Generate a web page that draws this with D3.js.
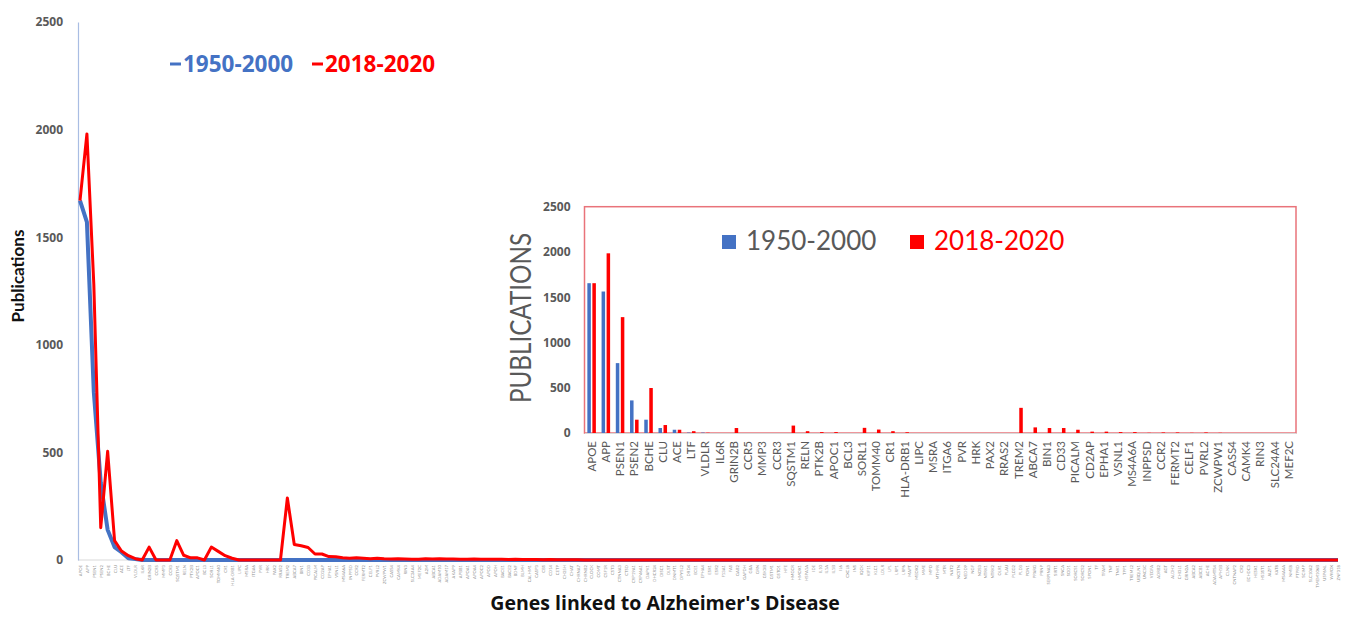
<!DOCTYPE html>
<html>
<head>
<meta charset="utf-8">
<script src="https://cdn.jsdelivr.net/npm/d3@7"></script>
<style>
  body { margin: 0; background: #fff; }
  svg { display: block; }
</style>
</head>
<body>
<div id="chart"></div>
<script>
// genes shown in the inset (and the first 50 points of the big line chart)
const insetGenes = ["APOE","APP","PSEN1","PSEN2","BCHE","CLU","ACE","LTF","VLDLR","IL6R",
  "GRIN2B","CCR5","MMP3","CCR3","SQSTM1","RELN","PTK2B","APOC1","BCL3","SORL1",
  "TOMM40","CR1","HLA-DRB1","LIPC","MSRA","ITGA6","PVR","HRK","PAX2","RRAS2",
  "TREM2","ABCA7","BIN1","CD33","PICALM","CD2AP","EPHA1","VSNL1","MS4A6A","INPPSD",
  "CCR2","FERMT2","CELF1","PVRL2","ZCWPW1","CASS4","CAMK4","RIN3","SLC24A4","MEF2C"];

const insetOld = [1655,1563,772,360,147,55,36,5,5,0,
  0,0,0,0,0,0,0,0,0,0,
  0,0,0,0,0,0,0,0,0,0,
  0,0,0,0,0,0,0,0,0,0,
  0,0,0,0,0,0,0,0,0,0];

const insetNew = [1655,1985,1280,147,497,88,36,20,3,0,
  55,0,0,0,82,20,10,10,0,57,
  38,20,8,0,0,0,0,0,0,0,
  278,62,55,55,36,15,15,10,10,2,
  6,6,2,6,2,0,0,0,0,0];

// remaining genes of the long line chart (labels too small to read, estimated)
const extraGenes = ["A2M","ABCA1","ADAM10","ADAM17","AKAP9","APBB1","APOA1","APOA4","APOC2","APOD",
  "APOH","BACE1","BACE2","BDNF","BLMH","CALHM1","CASP3","CBS","CD14","CETP",
  "CH25H","CHAT","CHRNA7","CHRNB2","CLOCK","COMT","CSF1R","CST3","CTNNA3","CTSD",
  "CYP19A1","CYP46A1","DAPK1","DHCR24","DISC1","DLST","DNMT1","DPYSL2","DRD4","ECE1",
  "EPHA4","ESR1","ESR2","F13A1","FAS","GAB2","GAPDH","GBA","GRN","GSK3B",
  "GSTM1","GSTO1","HFE","HMGCR","HMOX1","HSPA1A","IDE","IL10","IL1A","IL1B",
  "IL6","CXCL8","INS","IQCK","KIF11","KLC1","LDLR","LPL","LRP1","LRP6",
  "MAPT","MEOX2","MME","MPO","MTHFR","MTR","NAT2","NCSTN","NEDD9","NGF",
  "NOS3","NTRK1","NTRK2","OLR1","PLAU","PLCG2","PLD3","PON1","PPARG","PRNP",
  "SERPINA3","SIRT1","SNCA","SOD1","SORCS1","SORCS2","SPON1","TF","TFAM","TNF",
  "TNK1","TPP1","TREML2","UBQLN1","UNC5C","VEGFA","ADRB2","AGT","ALDH2","CHI3L1",
  "GRIN2A","ABCA2","ABCB1","ACHE","ADAMTS4","APH1B","CLNK","CNTNAP2","CR2","ECHDC3",
  "HESX1","HS3ST1","JAZF1","KAT8","MS4A4A","NME8","PTPRD","SCIMP","SLC10A2","TMEM106B",
  "USP6NL","WWOX","ZNF318"];

const mainOld = [1670,1570,780,360,140,60,36,8,4,0,
  0,0,0,0,0,0,0,0,0,0,
  0,0,0,0,0,0,0,0,0,0,
  0,0,0,0,0,0,0,0,0,0,
  0,0,0,0,0,0,0,0,0,0,
  0,0,0,0,0,0,0,0,0,0,
  0,0,0,0,0,0,0,0,0,0,
  0,0,0,0,0,0,0,0,0,0,
  0,0,0,0,0,0,0,0,0,0,
  0,0,0,0,0,0,0,0,0,0,
  0,0,0,0,0,0,0,0,0,0,
  0,0,0,0,0,0,0,0,0,0,
  0,0,0,0,0,0,0,0,0,0,
  0,0,0,0,0,0,0,0,0,0,
  0,0,0,0,0,0,0,0,0,0,
  0,0,0,0,0,0,0,0,0,0,
  0,0,0,0,0,0,0,0,0,0,
  0,0,0,0,0,0,0,0,0,0,
  0,0,0];

const mainNew = [1670,1980,1280,150,505,90,42,20,6,0,
  60,0,0,0,90,22,10,10,0,60,
  40,20,8,0,0,0,0,0,0,0,
  288,72,66,58,28,28,16,15,10,8,
  10,8,6,8,6,5,6,5,4,4,
  6,5,6,5,5,4,4,5,3,4,
  3,3,2,3,2,2,2,1,2,1,
  1,1,1,0,0,0,0,0,0,0,
  0,0,0,0,0,0,0,0,0,0,
  0,0,0,0,0,0,0,0,0,0,
  0,0,0,0,0,0,0,0,0,0,
  0,0,0,0,0,0,0,0,0,0,
  0,0,0,0,0,0,0,0,0,0,
  0,0,0,0,0,0,0,0,0,0,
  0,0,0,0,0,0,0,0,0,0,
  0,0,0,0,0,0,0,0,0,0,
  0,0,0,0,0,0,0,0,0,0,
  0,0,0,0,0,0,0,0,0,0,
  0,0,0];

const yTicks = [0, 500, 1000, 1500, 2000, 2500];
const periods = ["1950-2000", "2018-2020"];

const width = 1346;
const height = 617;
const blue = "#4472C4";
const red = "#FF0000";
const grey = "#595959";

const allGenes = insetGenes.concat(extraGenes);

const svg = d3.select("#chart")
    .append("svg")
    .attr("width", width)
    .attr("height", height);

// the long line chart with all genes
function drawMain() {
  var x = d3.scalePoint()
      .domain(allGenes)
      .range([80, 1338]);

  var y = d3.scaleLinear()
      .domain([0, 2500])
      .range([560, 22]);

  // x axis with the tiny gene labels
  var xAxis = svg.append("g")
      .attr("transform", "translate(0,560)")
      .call(d3.axisBottom(x).tickSize(0).tickPadding(0));
  xAxis.select(".domain").attr("stroke", "#d9d9d9").attr("d", "M78,0H1338");
  xAxis.selectAll("text")
      .attr("transform", "rotate(-90)")
      .attr("text-anchor", "end")
      .attr("x", -5)
      .attr("y", 0)
      .attr("dy", "0.35em")
      .style("font-family", "Lato, sans-serif")
      .style("font-size", "4.2px")
      .attr("fill", "#8c8c8c");

  var yAxis = svg.append("g")
      .attr("transform", "translate(78,0)")
      .call(d3.axisLeft(y).tickValues(yTicks).tickFormat(d3.format("d")).tickSize(0).tickPadding(15));
  yAxis.select(".domain").attr("stroke", "#a9bde3").attr("stroke-width", 1.2);
  yAxis.selectAll("text")
      .style("font-family", "'Open Sans', sans-serif")
      .style("font-size", "12px")
      .style("font-weight", "bold")
      .attr("fill", grey);

  var line = d3.line()
      .x(function (d, i) { return x(allGenes[i]); })
      .y(function (d) { return y(d); });

  svg.append("path")
      .datum(mainOld)
      .attr("fill", "none")
      .attr("stroke", blue)
      .attr("stroke-width", 4)
      .attr("stroke-linejoin", "round")
      .attr("d", line);

  svg.append("path")
      .datum(mainNew)
      .attr("fill", "none")
      .attr("stroke", red)
      .attr("stroke-width", 3)
      .attr("stroke-linejoin", "round")
      .attr("d", line);

  // legend
  var legend = [{x: 170, color: blue}, {x: 312, color: red}];
  legend.forEach(function (l, i) {
    svg.append("line")
        .attr("x1", l.x).attr("x2", l.x + 11)
        .attr("y1", 64).attr("y2", 64)
        .attr("stroke", l.color).attr("stroke-width", 3);
    svg.append("text")
        .attr("x", l.x + 13)
        .attr("y", 72)
        .attr("fill", l.color)
        .style("font-family", "'Open Sans', sans-serif")
        .style("font-size", "22.5px")
        .style("font-weight", "bold")
        .text(periods[i]);
  });

  svg.append("text")
      .attr("transform", "translate(24,276) rotate(-90)")
      .attr("text-anchor", "middle")
      .style("font-family", "Lato, sans-serif")
      .style("font-size", "17px")
      .style("font-weight", "bold")
      .attr("fill", "#111")
      .text("Publications");

  svg.append("text")
      .attr("x", 665)
      .attr("y", 610)
      .attr("text-anchor", "middle")
      .style("font-family", "'Open Sans', sans-serif")
      .style("font-size", "19.5px")
      .style("font-weight", "bold")
      .attr("fill", "#111")
      .text("Genes linked to Alzheimer's Disease");
}

// the inset bar chart
function drawInset() {
  var left = 584.5, right = 1296, top = 206.7, bottom = 433;

  var x = d3.scaleBand()
      .domain(insetGenes)
      .range([left, right])
      .paddingInner(0.4)
      .paddingOuter(0.2);

  var xSub = d3.scaleBand()
      .domain(periods)
      .range([0, x.bandwidth()])
      .paddingInner(0.3);

  var y = d3.scaleLinear()
      .domain([0, 2500])
      .range([bottom, top]);

  svg.append("rect")
      .attr("x", left).attr("y", top)
      .attr("width", right - left).attr("height", bottom - top)
      .attr("fill", "#fff")
      .attr("stroke", "#e9737a")
      .attr("stroke-width", 1.5);

  var rows = insetGenes.map(function (g, i) {
    return {gene: g, values: [insetOld[i], insetNew[i]]};
  });

  var groups = svg.append("g").selectAll("g")
      .data(rows)
      .join("g")
      .attr("transform", function (d) { return "translate(" + x(d.gene) + ",0)"; });

  groups.selectAll("rect")
      .data(function (d) { return d.values.map(function (v, k) { return {p: periods[k], v: v}; }); })
      .join("rect")
      .attr("x", function (d) { return xSub(d.p); })
      .attr("width", xSub.bandwidth())
      .attr("y", function (d) { return y(d.v); })
      .attr("height", function (d) { return bottom - y(d.v); })
      .attr("fill", function (d) { return d.p == periods[0] ? blue : red; });

  var yAxis = svg.append("g")
      .attr("transform", "translate(" + left + ",0)")
      .call(d3.axisLeft(y).tickValues(yTicks).tickFormat(d3.format("d")).tickSize(0).tickPadding(14));
  yAxis.select(".domain").remove();
  yAxis.selectAll("text")
      .style("font-family", "'Open Sans', sans-serif")
      .style("font-size", "12px")
      .style("font-weight", "bold")
      .attr("fill", grey);

  var xAxis = svg.append("g")
      .attr("transform", "translate(0," + bottom + ")")
      .call(d3.axisBottom(x).tickSize(0));
  xAxis.select(".domain").attr("stroke", "#d9d9d9");
  xAxis.selectAll("text")
      .attr("transform", "rotate(-90)")
      .attr("text-anchor", "end")
      .attr("x", -8)
      .attr("y", 0)
      .attr("dy", "0.35em")
      .style("font-family", "Lato, sans-serif")
      .style("font-size", "11.5px")
      .attr("fill", grey);

  svg.append("text")
      .attr("transform", "translate(531,318) rotate(-90)")
      .attr("text-anchor", "middle")
      .attr("textLength", 170)
      .attr("lengthAdjust", "spacingAndGlyphs")
      .style("font-family", "Lato, sans-serif")
      .style("font-size", "29px")
      .attr("fill", grey)
      .text("PUBLICATIONS");

  // inset legend
  var legend = [{x: 722, color: blue, text: grey}, {x: 910, color: red, text: red}];
  legend.forEach(function (l, i) {
    svg.append("rect")
        .attr("x", l.x).attr("y", 235)
        .attr("width", 14).attr("height", 14)
        .attr("fill", l.color);
    svg.append("text")
        .attr("x", l.x + 24)
        .attr("y", 250)
        .attr("fill", l.text)
        .style("font-family", "Lato, sans-serif")
        .style("font-size", "26px")
        .text(periods[i]);
  });
}

drawMain();
drawInset();
</script>
</body>
</html>
